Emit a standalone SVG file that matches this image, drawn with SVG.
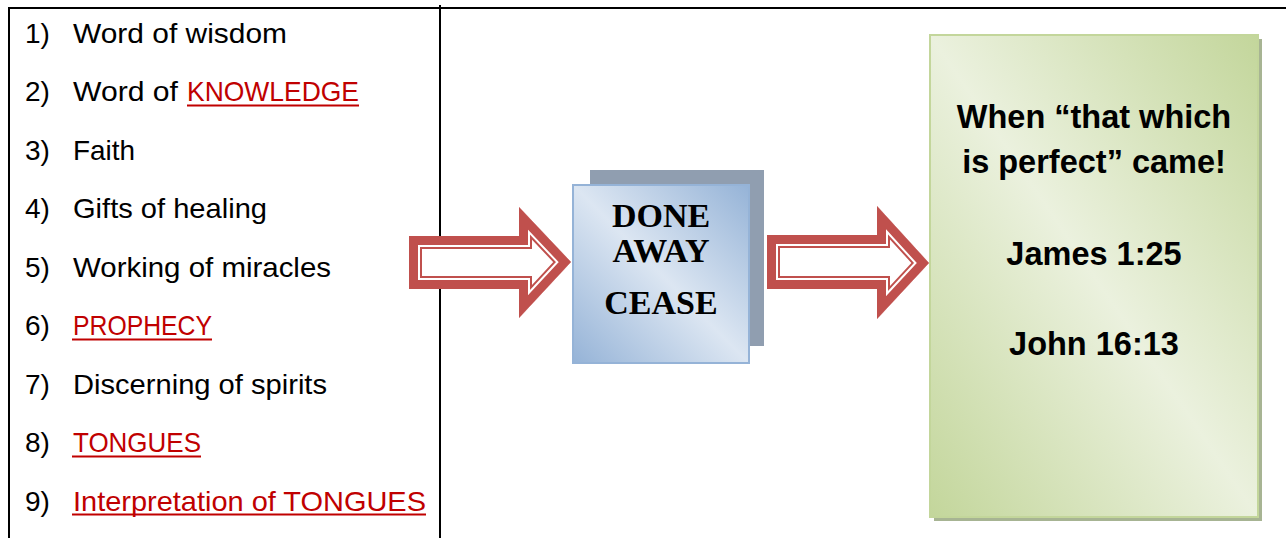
<svg xmlns="http://www.w3.org/2000/svg" width="1286" height="538" viewBox="0 0 1286 538">
<style>
.li{font-family:"Liberation Sans",Arial,sans-serif;font-size:28px;fill:#000}
.red{fill:#C00000}
.ul{stroke:#C00000;stroke-width:2}
.rule{stroke:#000;stroke-width:2}
.serif{font-family:"Liberation Serif","Times New Roman",serif;font-weight:bold;font-size:34px;text-anchor:middle;fill:#000}
.bold{font-family:"Liberation Sans",Arial,sans-serif;font-weight:bold;font-size:32.5px;text-anchor:middle;fill:#000}
</style>
<defs>
<linearGradient id="gBlue" x1="1" y1="0" x2="0" y2="1">
<stop offset="0" stop-color="#95B3D7"/>
<stop offset="0.5" stop-color="#DCE6F2"/>
<stop offset="1" stop-color="#95B3D7"/>
</linearGradient>
<linearGradient id="gGreen" x1="1" y1="0" x2="0" y2="1">
<stop offset="0" stop-color="#C3D69B"/>
<stop offset="0.5" stop-color="#EBF1DE"/>
<stop offset="1" stop-color="#C3D69B"/>
</linearGradient>
<clipPath id="c1"><polygon points="409,236 519,236 519,207 571,262 519,318 519,289 409,289"/></clipPath>
<clipPath id="c2"><polygon points="767,235 877,235 877,206 929,263 877,319 877,289 767,289"/></clipPath>
</defs>
<rect width="1286" height="538" fill="#fff"/>
<g id="frame">
<line class="rule" x1="8" y1="8" x2="1286" y2="8"/>
<line class="rule" x1="9" y1="7" x2="9" y2="538"/>
<line class="rule" x1="440" y1="5" x2="440" y2="538"/>
</g>
<g id="gift-list">
<text class="li" x="25" y="42.5">1)</text><text class="li" x="73" y="42.5" textLength="214" lengthAdjust="spacingAndGlyphs">Word of wisdom</text>
<text class="li" x="25" y="101">2)</text><text class="li" x="73" y="101" textLength="105" lengthAdjust="spacingAndGlyphs">Word of</text>
<text class="li red" x="187" y="101" textLength="172" lengthAdjust="spacingAndGlyphs">KNOWLEDGE</text>
<line class="ul" x1="187" y1="105.5" x2="359" y2="105.5"/>
<text class="li" x="25" y="159.5">3)</text><text class="li" x="73" y="159.5" textLength="62" lengthAdjust="spacingAndGlyphs">Faith</text>
<text class="li" x="25" y="218">4)</text><text class="li" x="73" y="218" textLength="194" lengthAdjust="spacingAndGlyphs">Gifts of healing</text>
<text class="li" x="25" y="276.5">5)</text><text class="li" x="73" y="276.5" textLength="258" lengthAdjust="spacingAndGlyphs">Working of miracles</text>
<text class="li" x="25" y="335">6)</text><text class="li red" x="73" y="335" textLength="139" lengthAdjust="spacingAndGlyphs">PROPHECY</text>
<line class="ul" x1="72" y1="339.5" x2="212" y2="339.5"/>
<text class="li" x="25" y="393.5">7)</text><text class="li" x="73" y="393.5" textLength="254" lengthAdjust="spacingAndGlyphs">Discerning of spirits</text>
<text class="li" x="25" y="452">8)</text><text class="li red" x="73" y="452" textLength="128" lengthAdjust="spacingAndGlyphs">TONGUES</text>
<line class="ul" x1="72" y1="456.5" x2="201" y2="456.5"/>
<text class="li" x="25" y="510.5">9)</text><text class="li red" x="73" y="510.5" textLength="353" lengthAdjust="spacingAndGlyphs">Interpretation of TONGUES</text>
<line class="ul" x1="72" y1="514.5" x2="426" y2="514.5"/>
</g>
<g id="connectors">
<g id="arrow-1">
<polygon points="409,236 519,236 519,207 571,262 519,318 519,289 409,289" fill="#fff"/>
<g clip-path="url(#c1)" fill="none" stroke-linejoin="miter" stroke-miterlimit="10">
<polygon points="409,236 519,236 519,207 571,262 519,318 519,289 409,289" stroke="#C0504D" stroke-width="26"/>
<polygon points="409,236 519,236 519,207 571,262 519,318 519,289 409,289" stroke="#fff" stroke-width="22"/>
<polygon points="409,236 519,236 519,207 571,262 519,318 519,289 409,289" stroke="#C0504D" stroke-width="18"/>
</g>
</g>
<g id="arrow-2">
<polygon points="767,235 877,235 877,206 929,263 877,319 877,289 767,289" fill="#fff"/>
<g clip-path="url(#c2)" fill="none" stroke-linejoin="miter" stroke-miterlimit="10">
<polygon points="767,235 877,235 877,206 929,263 877,319 877,289 767,289" stroke="#C0504D" stroke-width="26"/>
<polygon points="767,235 877,235 877,206 929,263 877,319 877,289 767,289" stroke="#fff" stroke-width="22"/>
<polygon points="767,235 877,235 877,206 929,263 877,319 877,289 767,289" stroke="#C0504D" stroke-width="18"/>
</g>
</g>
</g>
<g id="cease-box">
<rect x="590" y="170" width="174" height="176" fill="#909EB0"/>
<rect x="573" y="185" width="176" height="178" fill="url(#gBlue)" stroke="#95B3D7" stroke-width="2"/>
<text class="serif" x="661" y="227">DONE</text>
<text class="serif" x="661" y="262">AWAY</text>
<text class="serif" x="661" y="314">CEASE</text>
</g>
<g id="perfect-box">
<rect x="934" y="39" width="328" height="482" fill="#A7B493"/>
<rect x="930" y="35" width="328" height="482" fill="url(#gGreen)" stroke="#C3D69B" stroke-width="2"/>
<text class="bold" x="1094" y="128">When “that which</text>
<text class="bold" x="1094" y="173">is perfect” came!</text>
<text class="bold" x="1094" y="265">James 1:25</text>
<text class="bold" x="1094" y="355">John 16:13</text>
</g>
</svg>
